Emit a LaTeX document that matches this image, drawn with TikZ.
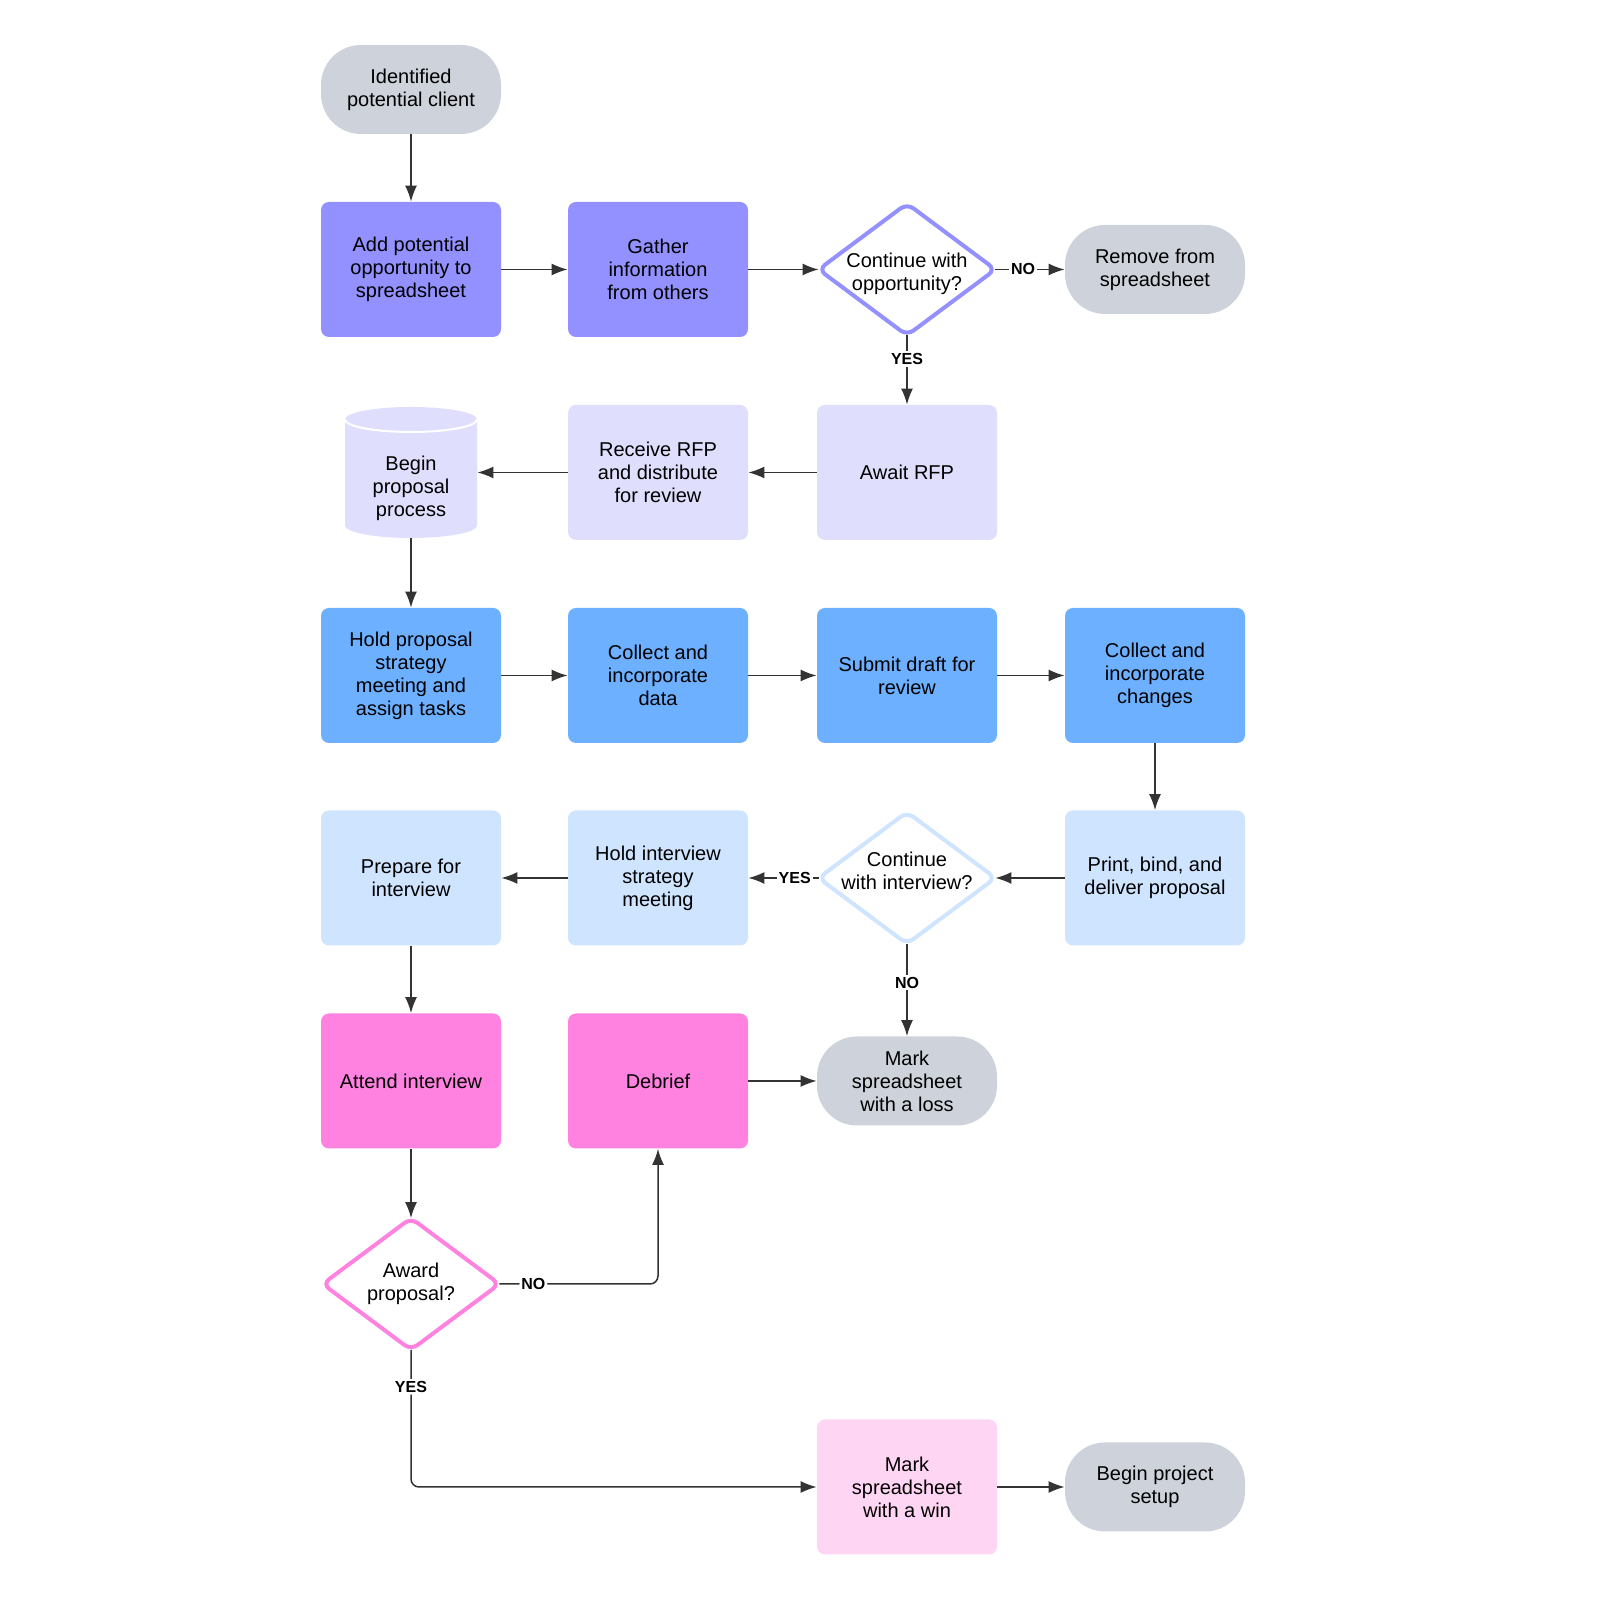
\documentclass[tikz,border=0pt]{standalone}
\usepackage{fontspec}
\setmainfont{Liberation Sans}
\usetikzlibrary{arrows.meta}
\definecolor{termgray}{HTML}{CED3DB}
\definecolor{purpleA}{HTML}{9391FF}
\definecolor{lavA}{HTML}{DFDEFC}
\definecolor{blueA}{HTML}{6CB0FF}
\definecolor{skyA}{HTML}{CFE4FF}
\definecolor{pinkA}{HTML}{FF82E0}
\definecolor{blushA}{HTML}{FFD5F4}
\definecolor{linegray}{HTML}{333333}

\begin{document}
\begin{tikzpicture}[x=0.5pt, y=0.5pt,
		font=\fontsize{10pt}{11.5pt}\selectfont,
		>={Latex[length=8pt, width=6pt]},
		term/.style={fill=termgray, rounded corners=20pt, minimum width=90pt, minimum height=44.5pt, inner sep=0pt, align=center},
		task/.style={fill=#1, rounded corners=4pt, minimum width=90pt, minimum height=67.5pt, inner sep=0pt, align=center},
		decide/.style={minimum width=88pt, minimum height=65.5pt, inner sep=0pt, align=center,
			append after command={\pgfextra{\draw[#1, line width=2pt, rounded corners=4pt]
				(\tikzlastnode.north) -- (\tikzlastnode.east) -- (\tikzlastnode.south) -- (\tikzlastnode.west) -- cycle;}}},
		store/.style={minimum width=66pt, minimum height=65.5pt, inner sep=0pt, align=center,
			path picture={
				\fill[lavA] ([yshift=-6.25pt]path picture bounding box.north west) -- ([yshift=6.25pt]path picture bounding box.south west)
					arc[start angle=180, end angle=360, x radius=33pt, y radius=6.25pt]
					-- ([yshift=-6.25pt]path picture bounding box.north east)
					arc[start angle=0, end angle=180, x radius=33pt, y radius=6.25pt] -- cycle;
				\draw[white, line width=1pt] ([yshift=-6.25pt]path picture bounding box.north west)
					arc[start angle=180, end angle=360, x radius=33pt, y radius=6.25pt];}},
		lbl/.style={fill=white, inner sep=1pt, font=\fontsize{8pt}{9pt}\selectfont\bfseries}]
		\useasboundingbox (0,0) rectangle (1600,1600);
		\fill[white] (0,0) rectangle (1600,1600);

		\node[term] (start) at (411,1510.5) {Identified\\potential client};

		\node[task=purpleA] (add) at (411,1330.5) {Add potential\\opportunity to\\spreadsheet};
		\node[task=purpleA] (gather) at (658,1330.5) {Gather\\information\\from others};
		\node[decide=purpleA] (cont1) at (907,1330.5) {\rule{0pt}{11.5pt}Continue with\\opportunity?};
		\node[term] (remove) at (1155,1330.5) {Remove from\\spreadsheet};

		\node[store] (begin) at (411,1127.5) {\rule{0pt}{23.5pt}Begin\\proposal\\process};
		\node[task=lavA] (receive) at (658,1127.5) {Receive RFP\\and distribute\\for review};
		\node[task=lavA] (await) at (907,1127.5) {Await RFP};

		\node[task=blueA] (hold) at (411,924.5) {Hold proposal\\strategy\\meeting and\\assign tasks};
		\node[task=blueA] (collect) at (658,924.5) {Collect and\\incorporate\\data};
		\node[task=blueA] (submit) at (907,924.5) {Submit draft for\\review};
		\node[task=blueA] (changes) at (1155,924.5) {Collect and\\incorporate\\changes};

		\node[task=skyA] (prep) at (411,722) {Prepare for\\interview};
		\node[task=skyA] (holdint) at (658,722) {Hold interview\\strategy\\meeting};
		\node[decide=skyA] (cont2) at (907,722) {Continue\\with interview?\rule[-7pt]{0pt}{7pt}};
		\node[task=skyA] (print) at (1155,722) {Print, bind, and\\deliver proposal};

		\node[task=pinkA] (attend) at (411,519) {Attend interview};
		\node[task=pinkA] (debrief) at (658,519) {Debrief};
		\node[term] (loss) at (907,519) {Mark\\spreadsheet\\with a loss};

		\node[decide=pinkA] (award) at (411,316) {Award\\proposal?};

		\node[task=blushA] (win) at (907,113) {Mark\\spreadsheet\\with a win};
		\node[term] (setup) at (1155,113) {Begin project\\setup};

		\begin{scope}[every path/.style={draw=linegray, line width=0.75pt, ->}]
			\path (start) edge (add);
			\path (add) edge (gather);
			\path (gather) edge (cont1);
			\path (cont1)
				edge node[lbl, pos=.4] {NO} (remove)
				edge node[lbl, pos=.34] {YES} (await);
			\path (await) edge (receive);
			\path (receive) edge (begin);
			\path (begin) edge (hold);
			\path (hold) edge (collect);
			\path (collect) edge (submit);
			\path (submit) edge (changes);
			\path (changes) edge (print);
			\path (print) edge (cont2);
			\path (cont2)
				edge node[lbl, pos=.34] {YES} (holdint)
				edge node[lbl, pos=.42] {NO} (loss);
			\path (holdint) edge (prep);
			\path (prep) edge (attend);
			\path (attend) edge (award);
			\path (debrief) edge (loss);
			\path (win) edge (setup);
			\draw[rounded corners=4pt] (award) -| node[lbl, pos=.107] {NO} (debrief);
			\draw[rounded corners=4pt] (award) |- node[lbl, pos=.135] {YES} (win);
		\end{scope}
	\end{tikzpicture}
\end{document}
